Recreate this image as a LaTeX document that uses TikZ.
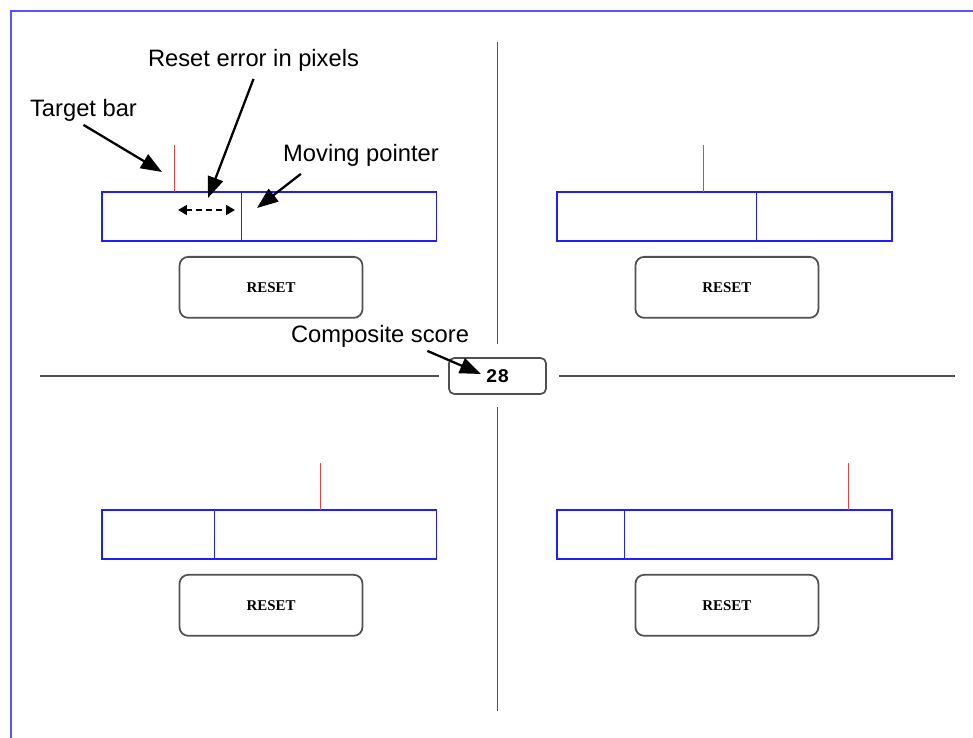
\documentclass[tikz,border=0pt]{standalone}
\usepackage{fontspec}
\setmainfont{Liberation Sans}
\newfontfamily\resetfont{Liberation Serif}
\newfontfamily\scorefont{Liberation Mono}
\usepackage{tikz}
\usetikzlibrary{positioning, calc, arrows.meta}
\definecolor{framecol}{RGB}{85,85,255}
\definecolor{barcol}{RGB}{30,30,255}
\definecolor{targetcol}{RGB}{245,60,60}
\definecolor{divcol}{RGB}{80,80,80}
\tikzstyle{bar} = [draw=barcol,line width=1.1pt,minimum width=6.7cm,minimum height=0.98cm,inner sep=0pt,outer sep=0pt]
\tikzstyle{pointer} = [draw=barcol,line width=1pt]
\tikzstyle{target} = [draw=targetcol,line width=1pt]
\tikzstyle{resetbtn} = [draw=divcol,line width=1pt,rounded corners=5pt,minimum width=3.66cm,minimum height=1.22cm,xshift=0.04cm,font=\resetfont\bfseries\fontsize{8.5}{10}\selectfont]
\tikzstyle{scorebox} = [draw=divcol,line width=1pt,rounded corners=3pt,minimum width=1.94cm,minimum height=0.72cm,font=\scorefont\bfseries\fontsize{11}{12}\selectfont]
\tikzstyle{divider} = [draw=divcol,line width=1.1pt]
\tikzstyle{callouttext} = [inner sep=0pt,font=\fontsize{13.5}{16}\selectfont]
\tikzstyle{callout} = [line width=1.3pt,-{Triangle[length=12pt,width=9pt]}]
\tikzstyle{errarrow} = [line width=1.1pt,dash pattern=on 3.4pt off 2.3pt,{Triangle[length=5pt,width=5.5pt]}-{Triangle[length=5pt,width=5.5pt]}]

\begin{document}
\begin{tikzpicture}[x=0.02cm,y=-0.02cm,node distance=0.3cm]
   	\useasboundingbox (0,0) rectangle (973,737);
   	\draw[framecol,line width=1.5pt] (11,760) -- (11,11) -- (990,11);
   	% the four bars
   	\node[bar] (bar_tl) at (269,216.5) {};
   	\node[bar] (bar_tr) [right=2.42cm of bar_tl] {};
   	\node[bar] (bar_bl) [below=5.38cm of bar_tl] {};
   	\node[bar] (bar_br) [right=2.42cm of bar_bl] {};
   	\draw[pointer] ($(bar_tl.north west)+(140,0)$) -- ($(bar_tl.south west)+(140,0)$);
   	\draw[pointer] ($(bar_tr.north west)+(199,0)$) -- ($(bar_tr.south west)+(199,0)$);
   	\draw[pointer] ($(bar_bl.north west)+(113,0)$) -- ($(bar_bl.south west)+(113,0)$);
   	\draw[pointer] ($(bar_br.north west)+(67,0)$) -- ($(bar_br.south west)+(67,0)$);
   	\draw[target] ($(bar_tl.north west)+(73,0)$) -- ++(0,-47);
   	\draw[target] ($(bar_tr.north west)+(146,0)$) -- ++(0,-47);
   	\draw[target] ($(bar_bl.north west)+(219,0)$) -- ++(0,-47);
   	\draw[target] ($(bar_br.north west)+(291,0)$) -- ++(0,-47);
   	\node[resetbtn] (reset_tl) [below=of bar_tl] {RESET};
   	\node[resetbtn] (reset_tr) [below=of bar_tr] {RESET};
   	\node[resetbtn] (reset_bl) [below=of bar_bl] {RESET};
   	\node[resetbtn] (reset_br) [below=of bar_br] {RESET};
   	% score and dividers
   	\node[scorebox] (score) at (497.5,376) {28};
   	\draw[divider] (497.5,42) -- ([yshift=0.26cm]score.north);
   	\draw[divider] ([yshift=-0.24cm]score.south) -- (497.5,711);
   	\draw[divider] (40,376) -- ([xshift=-0.18cm]score.west);
   	\draw[divider] ([xshift=0.24cm]score.east) -- (955,376);
   	% callouts
   	\node[callouttext] (lbl_target) at (83.5,110) {Target bar};
   	\node[callouttext] (lbl_error) at (253.5,60.5) {Reset error in pixels};
   	\node[callouttext] (lbl_pointer) at (361,155.5) {Moving pointer};
   	\node[callouttext] (lbl_score) at (380,336.5) {Composite score};
   	\coordinate (tip_target) at (162,172);
   	\coordinate (tip_error) at (208,198);
   	\coordinate (tip_pointer) at (257,208);
   	\coordinate (tip_score) at (481,374);
   	\coordinate (err_l) at (178,210);
   	\coordinate (err_r) at (235,210);
   	\draw[callout] ([yshift=-2pt]lbl_target.south) -- (tip_target);
   	\draw[callout] ([yshift=-4pt]lbl_error.south) -- (tip_error);
   	\draw[callout] ($(lbl_pointer.south west)+(18,7)$) -- (tip_pointer);
   	\draw[callout] ($(lbl_score.south east)+(-42,3)$) -- (tip_score);
   	\draw[errarrow] (err_l) -- (err_r);
\end{tikzpicture}
\end{document}
